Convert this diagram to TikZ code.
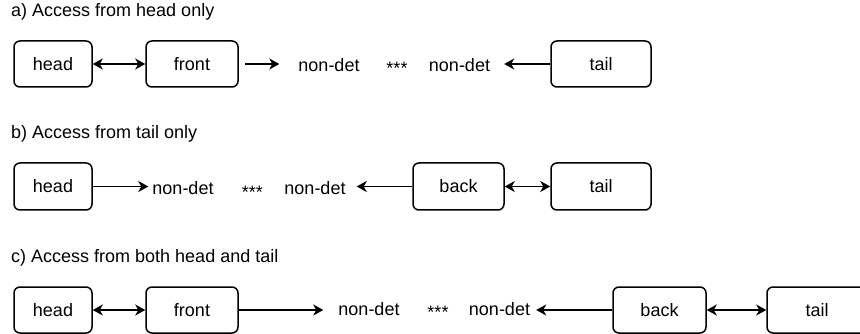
\documentclass[tikz,border=0pt]{standalone}
\usepackage{fontspec}
\setmainfont{Liberation Sans}
\usetikzlibrary{arrows.meta}
\begin{document}
\begin{tikzpicture}[x=1pt,y=-1pt,
  every node/.style={font=\fontsize{18}{22}\selectfont},
  box/.style={draw, line width=1.5pt, rounded corners=6pt, minimum height=46pt, inner sep=0pt},
  txt/.style={inner sep=0pt, anchor=base},
  lbl/.style={inner sep=0pt, anchor=base west},
  conn/.style={line width=1.5pt, -{Stealth[length=10pt,width=11pt,inset=3pt]}},
  dconn/.style={line width=1.5pt, {Stealth[length=10pt,width=11pt,inset=3pt]}-{Stealth[length=10pt,width=11pt,inset=3pt]}}
]
\useasboundingbox (0,0) rectangle (860,334);
% row a
\node[lbl] (la) at (11,17) {a) Access from head only};
\node[box, minimum width=78pt] (ha) at (53,64) {head};
\node[box, minimum width=92pt] (fa) at (192,64) {front};
\node[box, minimum width=100pt] (ta) at (601,64) {tail};
\node[txt] (na1) at (329,72) {non-det};
\node[txt] (sa) at (397,75) {***};
\node[txt] (na2) at (459.5,72) {non-det};
\draw[dconn] (ha.east) -- (fa.west);
\draw[conn, shorten <=6pt, shorten >=19pt] (fa.east) -- (fa.east -| na1.west);
\draw[conn, shorten >=14pt] (ta.west) -- (ta.west -| na2.east);
% row b
\node[lbl] (lb) at (11,139) {b) Access from tail only};
\node[box, minimum width=78pt, minimum height=47pt] (hb) at (53,186.5) {head};
\node[box, minimum width=91pt, minimum height=47pt] (bb) at (458.5,186.5) {back};
\node[box, minimum width=100pt, minimum height=47pt] (tb) at (601,186.5) {tail};
\node[txt] (nb1) at (183,195) {non-det};
\node[txt] (sb) at (252.5,199) {***};
\node[txt] (nb2) at (315,195) {non-det};
\draw[conn, shorten >=4pt] (hb.east) -- (hb.east -| nb1.west);
\draw[conn, shorten >=11pt] (bb.west) -- (bb.west -| nb2.east);
\draw[dconn] (bb.east) -- (tb.west);
% row c
\node[lbl] (lc) at (11,262.7) {c) Access from both head and tail};
\node[box, minimum width=78pt] (hc) at (53,310) {head};
\node[box, minimum width=92pt] (fc) at (192,310) {front};
\node[box, minimum width=93pt] (bc) at (659.5,310) {back};
\node[box, minimum width=100pt] (tc) at (817,310) {tail};
\node[txt] (nc1) at (369,315.5) {non-det};
\node[txt] (sc) at (438,318) {***};
\node[txt] (nc2) at (499.5,315.5) {non-det};
\draw[dconn] (hc.east) -- (fc.west);
\draw[conn, shorten >=15pt] (fc.east) -- (fc.east -| nc1.west);
\draw[conn, shorten >=6pt] (bc.west) -- (bc.west -| nc2.east);
\draw[dconn] (bc.east) -- (tc.west);
\end{tikzpicture}
\end{document}
